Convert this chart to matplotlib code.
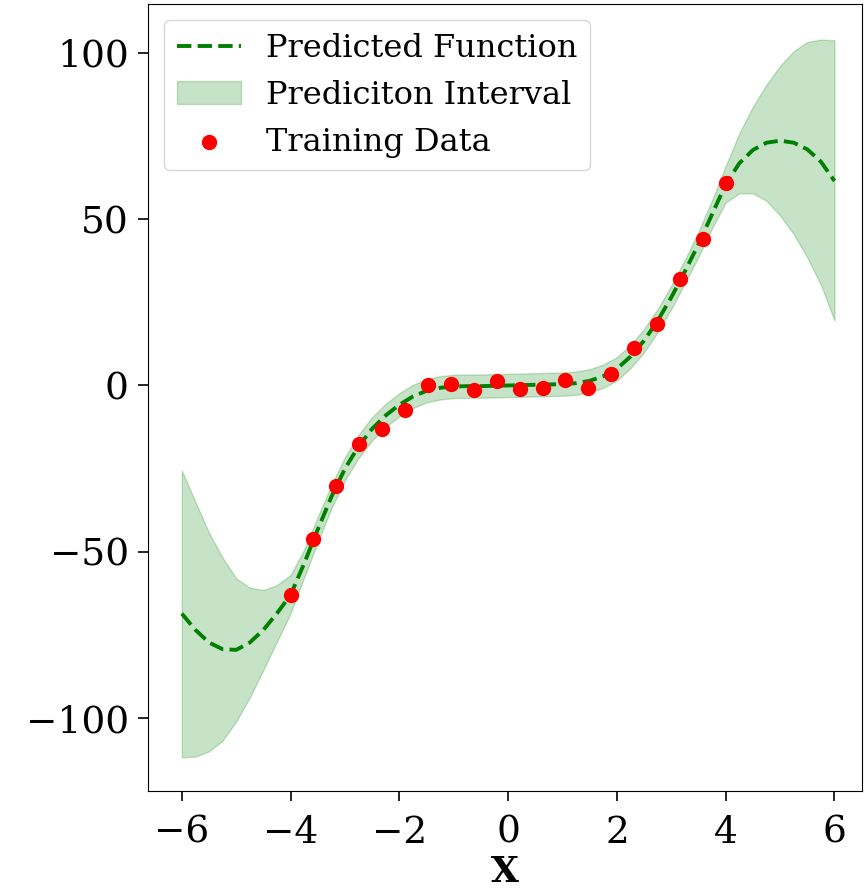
import numpy as np
import matplotlib
matplotlib.use("Agg")
import matplotlib.pyplot as plt

plt.rcParams['font.family'] = ['DejaVu Serif']

# prediction grid and GP output
x_grid = [-6.0, -5.75, -5.5, -5.25, -5.0, -4.75, -4.5, -4.25, -4.0, -3.75,
          -3.5, -3.25, -3.0, -2.75, -2.5, -2.25, -2.0, -1.75, -1.5, -1.25,
          -1.0, -0.75, -0.5, -0.25, 0.0, 0.25, 0.5, 0.75, 1.0, 1.25,
          1.5, 1.75, 2.0, 2.25, 2.5, 2.75, 3.0, 3.25, 3.5, 3.75,
          4.0, 4.25, 4.5, 4.75, 5.0, 5.25, 5.5, 5.75, 6.0]
y_mean = [-68.6, -73.5, -77.3, -79.3, -79.5, -77.3, -73.5, -68.5, -63.0, -53.5,
          -43.3, -33.5, -25.0, -18.3, -13.0, -9.0, -5.8, -3.3, -1.6, -0.7,
          -0.3, -0.2, -0.2, -0.1, 0.0, 0.1, 0.2, 0.3, 0.4, 0.7,
          1.4, 2.8, 5.0, 8.7, 13.5, 19.5, 26.5, 34.3, 42.5, 51.5,
          60.5, 66.8, 70.8, 73.0, 73.6, 73.0, 71.0, 67.3, 61.5]
y_upper = [-25.6, -35.0, -44.3, -51.8, -58.0, -60.8, -61.5, -60.0, -57.0, -49.3,
           -39.5, -30.0, -21.5, -14.8, -9.5, -5.5, -2.3, 0.2, 1.9, 2.8,
           3.2, 3.3, 3.3, 3.4, 3.5, 3.6, 3.7, 3.8, 3.9, 4.2,
           4.9, 6.3, 8.5, 12.2, 17.0, 23.0, 30.0, 37.8, 46.3, 55.7,
           66.0, 75.8, 83.8, 90.5, 96.1, 100.5, 103.3, 104.0, 103.8]
y_lower = [-111.8, -111.6, -110.0, -106.8, -101.0, -93.8, -85.5, -77.0, -68.5, -57.7,
           -47.1, -37.0, -28.5, -21.8, -16.5, -12.5, -9.3, -6.8, -5.1, -4.2,
           -3.8, -3.7, -3.7, -3.6, -3.5, -3.4, -3.3, -3.2, -3.1, -2.8,
           -2.1, -0.7, 1.5, 5.2, 10.0, 16.0, 23.0, 30.8, 38.7, 47.3,
           55.0, 57.8, 57.8, 55.5, 51.1, 45.5, 38.5, 30.3, 19.5]

# training points
x_train = [-4.0, -3.579, -3.158, -2.737, -2.316, -1.895, -1.474, -1.053, -0.632, -0.211,
           0.211, 0.632, 1.053, 1.474, 1.895, 2.316, 2.737, 3.158, 3.579, 4.0]
y_train = [-63.1, -46.3, -30.3, -17.5, -13.0, -7.5, 0.0, 0.3, -1.4, 1.3,
           -1.1, -0.7, 1.7, -0.8, 3.4, 11.2, 18.5, 32.0, 43.9, 61.0]

fig = plt.figure(figsize=(8.66, 8.93), dpi=100)
ax = fig.add_axes([0.171, 0.114, 0.824, 0.8815])

ax.plot(x_grid, y_mean, 'g--', lw=2.8, label="Predicted Function")
ax.fill_between(x_grid, y_lower, y_upper, color='green', alpha=0.22,
                label="Prediciton Interval")
ax.scatter(x_train, y_train, s=100, c='red', zorder=3, label="Training Data")

ax.set_xlim(-6.62, 6.5)
ax.set_ylim(-122, 114.7)
ax.set_xticks([-6, -4, -2, 0, 2, 4, 6])
ax.set_yticks([-100, -50, 0, 50, 100])
ax.tick_params(labelsize=27, length=7, width=1.2)
ax.tick_params(axis='x', pad=10)
ax.tick_params(axis='y', pad=7)

ax.set_xlabel("X", fontsize=26, fontweight='bold', labelpad=3)
ax.set_ylabel("Y", fontsize=26, fontweight='bold')
ax.yaxis.set_label_coords(-0.222, 0.5)

ax.legend(loc='upper left', fontsize=23, handlelength=2.0)

fig.savefig("out.png", dpi=100)
